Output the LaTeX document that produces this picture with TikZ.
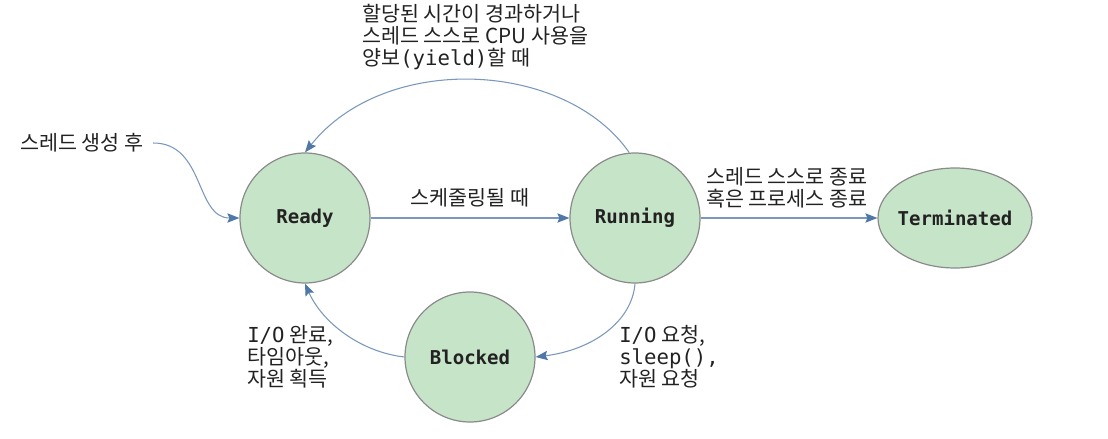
\documentclass[tikz,border=0pt]{standalone}
\usepackage{fontspec}
\setmainfont{Noto Sans CJK KR}
\setmonofont{DejaVu Sans Mono}
\usetikzlibrary{shapes.geometric,arrows.meta}
\definecolor{stfill}{HTML}{C6E4C8}
\definecolor{stdraw}{HTML}{8A8A8A}
\definecolor{conncol}{HTML}{7A98BC}
\definecolor{tipcol}{HTML}{4F77A8}
\definecolor{txt}{HTML}{222222}
\newcommand{\mn}[1]{{\ttfamily #1}}
\begin{document}
\begin{tikzpicture}[x=0.75pt,y=-0.75pt,
  state/.style={circle,draw=stdraw,fill=stfill,line width=0.9pt,minimum size=97.5pt,inner sep=0pt,
    font=\ttfamily\bfseries\fontsize{14.3}{16}\selectfont,text=txt},
  termstate/.style={ellipse,draw=stdraw,fill=stfill,line width=0.9pt,minimum width=115.5pt,minimum height=75pt,inner sep=0pt,
    font=\ttfamily\bfseries\fontsize{14.3}{16}\selectfont,text=txt},
  lbl/.style={inner sep=0pt,align=left,text=txt,font=\fontsize{15.5}{16.6}\selectfont},
  conn/.style={draw=conncol,line width=0.8pt,-{Stealth[length=9pt,width=7pt,inset=1.5pt,color=tipcol]}}]
\useasboundingbox (0,0) rectangle (1108,439);
% states
\node[state] (ready) at (305,218) {Ready};
\node[state] (run) at (635,218) {Running};
\node[state] (blk) at (470,357) {Blocked};
\node[termstate] (term) at (955,218) {\makebox[0pt]{Terminated}};
% labels
\node[lbl,anchor=west] (create) at (20,143) {스레드 생성 후};
\node[lbl,anchor=west] (yieldlbl) at (362,37) {할당된 시간이 경과하거나\\스레드 스스로 CPU 사용을\\양보\mn{(yield)}할 때};
\node[lbl] (sched) at (470,198) {스케줄링될 때};
\node[lbl,anchor=west] (termlbl) at (706,188) {스레드 스스로 종료\\혹은 프로세스 종료};
\node[lbl,anchor=west] (donelbl) at (247,357) {\mn{I/O} 완료,\\타임아웃,\\자원 획득};
\node[lbl,anchor=west] (reqlbl) at (619,357) {\mn{I/O} 요청,\\\mn{sleep(),}\\자원 요청};
% connectors
\draw[conn] ([xshift=7pt]create.east) .. controls (205,143) and (195,218) .. (ready.west);
\draw[conn] (ready.east) -- (run.west);
\draw[conn] (run.east) -- (term.west);
\draw[conn] (run.95) .. controls (565,60) and (385,52) .. (ready.north);
\draw[conn] (run.south) .. controls (632,322) and (592,350) .. (blk.east);
\draw[conn] (blk.west) .. controls (360,352) and (322,322) .. (ready.south);
\end{tikzpicture}
\end{document}
